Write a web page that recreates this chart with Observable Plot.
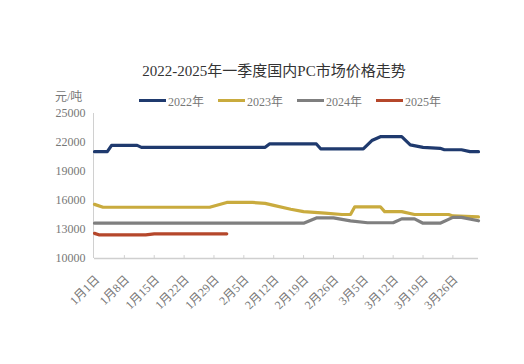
<!DOCTYPE html>
<html>
<head>
<meta charset="utf-8">
<script src="https://cdn.jsdelivr.net/npm/d3@7"></script>
<script src="https://cdn.jsdelivr.net/npm/@observablehq/plot@0.6"></script>
<style>
  body { margin: 0; background: #fff; }
  #wrap { position: relative; width: 524px; height: 364px; overflow: hidden;
          font-family: 'Liberation Serif', 'Noto Sans CJK SC', serif; }
  #title { position: absolute; left: 0; width: 548px; top: 59px; text-align: center;
           font-size: 15px; color: #333; white-space: nowrap; }
  #unit { position: absolute; left: 55px; top: 87px; font-size: 12px; color: #777; }
  .leg { position: absolute; top: 92px; font-size: 12px; color: #777; white-space: nowrap; }
  .sw { position: absolute; height: 3px; top: 99px; }
  #chart { position: absolute; left: 0; top: 0; }
</style>
</head>
<body>
<div id="wrap">
  <div id="chart"></div>
  <div id="title">2022-2025年一季度国内PC市场价格走势</div>
  <div id="unit">元/吨</div>
  <div id="legend"></div>
</div>
<script>
// ---- data (day index: 0 = 1月1日) ----
const seriesNames = ["2022年", "2023年", "2024年", "2025年"];
const seriesColors = ["#1f3a6e", "#c9ab3e", "#7f7f7f", "#b5472b"];

const days2022 = [0, 3, 4, 10, 11, 40, 41, 52, 53, 63, 65, 67, 72, 74, 77, 81, 82, 86, 88, 90];
const vals2022 = [21050, 21050, 21700, 21700, 21500, 21500, 21850, 21850, 21350, 21350, 22200, 22600, 22600, 21750, 21500, 21400, 21250, 21250, 21050, 21050];

const days2023 = [0, 2, 27, 31, 37, 40, 42, 46, 49, 54, 58, 60, 61, 67, 68, 72, 75, 83, 84, 90];
const vals2023 = [15600, 15300, 15300, 15800, 15800, 15700, 15500, 15100, 14850, 14700, 14550, 14550, 15350, 15350, 14850, 14850, 14550, 14550, 14400, 14300];

const days2024 = [0, 49, 52, 56, 60, 64, 70, 72, 75, 77, 81, 84, 86, 90];
const vals2024 = [13650, 13650, 14200, 14200, 13900, 13700, 13700, 14100, 14100, 13650, 13650, 14250, 14250, 13900];

const days2025 = [0, 1, 12, 14, 31];
const vals2025 = [12600, 12450, 12450, 12550, 12550];

const tickDays = [0, 7, 14, 21, 28, 35, 42, 49, 56, 63, 70, 77, 84];
const tickLabels = ["1月1日", "1月8日", "1月15日", "1月22日", "1月29日", "2月5日", "2月12日",
                    "2月19日", "2月26日", "3月5日", "3月12日", "3月19日", "3月26日"];
const yTicks = [10000, 13000, 16000, 19000, 22000, 25000];
const xDomain = [0, 90];
const yDomain = [10000, 25000];

// ---- build table ----
const allDays = [days2022, days2023, days2024, days2025];
const allVals = [vals2022, vals2023, vals2024, vals2025];
const rows = [];
seriesNames.forEach((s, i) => {
  allDays[i].forEach((d, j) => rows.push({series: s, day: d, value: allVals[i][j]}));
});

const chart = Plot.plot({
  width: 524,
  height: 364,
  marginLeft: 94,
  marginRight: 46,
  marginTop: 113,
  marginBottom: 106,
  style: {fontFamily: "'Liberation Serif','Noto Sans CJK SC',serif", fontSize: "12px", color: "#777", background: "transparent"},
  x: {domain: xDomain},
  y: {domain: yDomain},
  color: {domain: seriesNames, range: seriesColors},
  marks: [
    Plot.ruleX([xDomain[0]], {stroke: "#d0d0d0", strokeWidth: 1, dx: -1}),
    Plot.ruleY([yDomain[0]], {stroke: "#cfcfcf", strokeWidth: 1.5, x1: xDomain[0], x2: xDomain[1]}),
    Plot.ruleX(tickDays.slice(1), {y1: yDomain[0], y2: yDomain[0] + 300, stroke: "#d0d0d0"}),
    Plot.axisY({ticks: yTicks, tickSize: 0, tickPadding: 9, label: null, tickFormat: d => String(d)}),
    Plot.axisX({ticks: tickDays, tickSize: 0, tickPadding: 19, tickRotate: -45, label: null, dx: 3,
                tickFormat: d => tickLabels[tickDays.indexOf(d)]}),
    Plot.line(rows, {x: "day", y: "value", z: "series", stroke: "series", strokeWidth: 3.2,
                     curve: "linear", strokeLinejoin: "round", strokeLinecap: "round"})
  ]
});
document.getElementById("chart").appendChild(chart);

// ---- legend ----
const legend = document.getElementById("legend");
const swX = [139, 218, 297, 376];
seriesNames.forEach((s, i) => {
  const sw = document.createElement("div");
  sw.className = "sw";
  sw.style.left = swX[i] + "px";
  sw.style.width = "27px";
  sw.style.background = seriesColors[i];
  legend.appendChild(sw);
  const t = document.createElement("div");
  t.className = "leg";
  t.style.left = (swX[i] + 29) + "px";
  t.textContent = s;
  legend.appendChild(t);
});
</script>
</body>
</html>
